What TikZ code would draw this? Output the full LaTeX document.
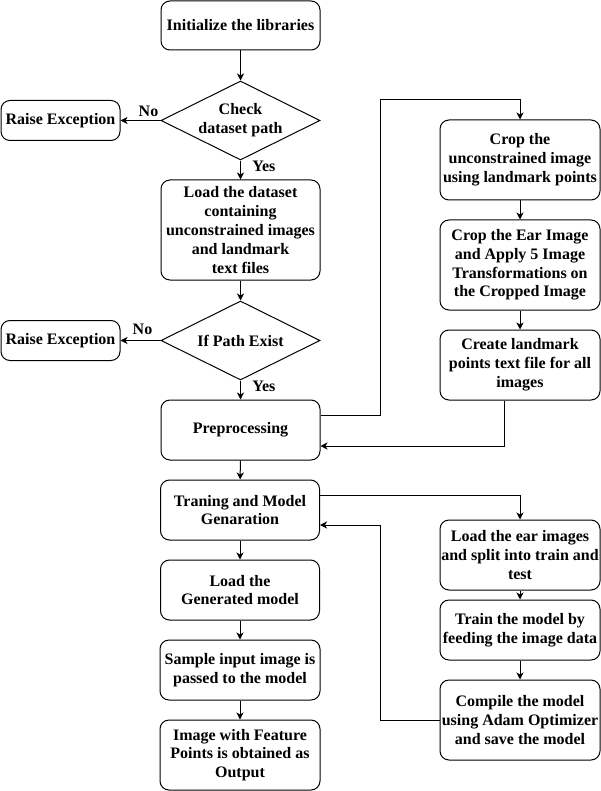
\documentclass[tikz,border=0pt]{standalone}
\usepackage{fontspec}
\setmainfont{Liberation Serif}
\usetikzlibrary{shapes.geometric,arrows.meta}
\begin{document}
\begin{tikzpicture}[x=1pt,y=-1pt,
  every node/.style={font=\bfseries\fontsize{16}{18.8}\selectfont, align=center, text=black},
  box/.style={draw, line width=1pt, rounded corners=9pt, inner sep=0pt},
  dia/.style={draw, line width=1pt, shape=diamond, aspect=2, inner sep=0pt, minimum width=159pt, minimum height=79pt},
  conn/.style={line width=1pt, -{Stealth[length=7pt,width=7pt,inset=2pt]}},
  lbl/.style={font=\bfseries\fontsize{16}{18.8}\selectfont}
]
\useasboundingbox[fill=white] (0,0) rectangle (601,791);

% left column
\node[box, minimum width=159pt, minimum height=49pt] (init) at (240.5,25.5) {Initialize the libraries};
\node[dia] (chk) at (240.5,120.5) {Check\\dataset path};
\node[box, minimum width=119pt, minimum height=40pt] (rex1) at (60.5,120.5) {Raise Exception};
\node[box, minimum width=159pt, minimum height=100pt] (load) at (240.5,230) {Load the dataset\\containing\\unconstrained images\\and landmark\\text files};
\node[dia] (ifp) at (240.5,340.5) {If Path Exist};
\node[box, minimum width=119pt, minimum height=40pt] (rex2) at (60.5,340.5) {Raise Exception};
\node[box, minimum width=159pt, minimum height=60pt] (pre) at (240.5,430) {Preprocessing};
\node[box, minimum width=159pt, minimum height=60pt] (train) at (240,510) {Traning and Model\\Genaration};
\node[box, minimum width=159pt, minimum height=60pt] (lgen) at (240,590) {Load the\\Generated model};
\node[box, minimum width=160pt, minimum height=60pt] (samp) at (240,670) {Sample input image is\\passed to the model};
\node[box, minimum width=160pt, minimum height=70pt] (outp) at (240,755) {Image with Feature\\Points is obtained as\\Output};

% right column top
\node[box, minimum width=160pt, minimum height=80pt] (crop1) at (520,160) {Crop the\\unconstrained image\\using landmark points};
\node[box, minimum width=160pt, minimum height=90pt] (crop2) at (520,265) {Crop the Ear Image\\and Apply 5 Image\\Transformations on\\the Cropped Image};
\node[box, minimum width=160pt, minimum height=70pt] (lmk) at (520,365) {Create landmark\\points text file for all\\images};

% right column bottom
\node[box, minimum width=160pt, minimum height=70pt] (lear) at (520,555) {Load the ear images\\and split into train and\\test};
\node[box, minimum width=160pt, minimum height=60pt] (tmod) at (520,630) {Train the model by\\feeding the image data};
\node[box, minimum width=160pt, minimum height=80pt] (comp) at (520,720) {Compile the model\\using Adam Optimizer\\and save the model};

% connectors
\draw[conn] (init) -- (chk);
\draw[conn] (chk) -- (rex1) node[lbl, pos=0.3, above] {No};
\draw[conn] (chk) -- (load) node[lbl, pos=0.3, right, xshift=8pt] {Yes};
\draw[conn] (load) -- (ifp);
\draw[conn] (ifp) -- (rex2) node[lbl, pos=0.45, above, yshift=2pt] {No};
\draw[conn] (ifp) -- (pre) node[lbl, pos=0.3, right, xshift=8pt] {Yes};
\draw[conn] (pre) -- (train);
\draw[conn] (train) -- (lgen);
\draw[conn] (lgen) -- (samp);
\draw[conn] (samp) -- (outp);

\draw[conn] (pre.east |- 0,415) -- (380,415) -- (380,100) -- (crop1.north |- 0,100) -- (crop1.north);
\draw[conn] (crop1) -- (crop2);
\draw[conn] (crop2) -- (lmk);
\draw[conn] (lmk.south -| 504,0) -- (504,446) -- (pre.east |- 0,446);

\draw[conn] (train.east |- 0,495) -- (lear.north |- 0,495) -- (lear.north);
\draw[conn] (lear) -- (tmod);
\draw[conn] (tmod) -- (comp);
\draw[conn] (comp.west |- 0,720) -- (380,720) -- (380,525) -- (train.east |- 0,525);
\end{tikzpicture}
\end{document}
